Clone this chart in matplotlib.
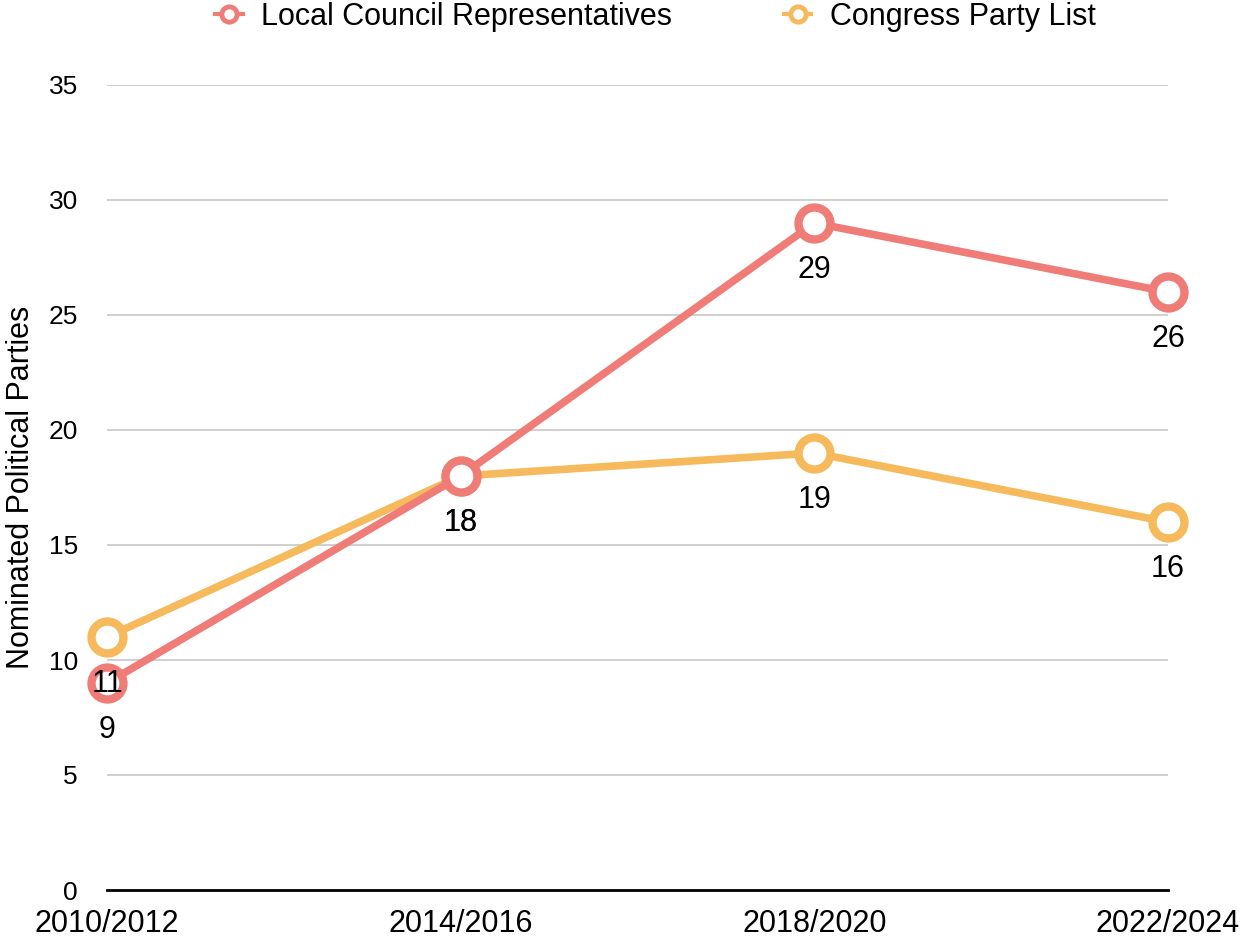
import matplotlib
matplotlib.use("Agg")
import matplotlib.pyplot as plt
from matplotlib.lines import Line2D

plt.rcParams['font.family'] = ['Liberation Sans', 'DejaVu Sans']

categories = ["2010/2012", "2014/2016", "2018/2020", "2022/2024"]
local_council = [9, 18, 29, 26]
congress_list = [11, 18, 19, 16]
series_names = ["Local Council Representatives", "Congress Party List"]
y_ticks = [0, 5, 10, 15, 20, 25, 30, 35]

red = "#F07C78"
yellow = "#F6BA5C"

fig = plt.figure(figsize=(12.45, 9.41), dpi=100)
ax = fig.add_axes([107/1245, 1 - 890/941, (1168-107)/1245, (890-85)/941])

x = list(range(len(categories)))
for vals, col, z in [(congress_list, yellow, 3), (local_council, red, 4)]:
    ax.plot(x, vals, color=col, lw=5.5, marker='o', ms=23, mew=6,
            mfc='white', mec=col, clip_on=False, zorder=z)

for vals in [local_council, congress_list]:
    for xi, v in zip(x, vals):
        ax.annotate(str(v), (xi, v), xytext=(0, -34), textcoords='offset points',
                    ha='center', va='center', fontsize=22, color='black', zorder=6,
                    annotation_clip=False)

ax.set_xlim(0, 3)
ax.set_ylim(0, 35)
ax.set_yticks(y_ticks)
ax.set_xticks(x)
ax.set_xticklabels(categories, fontsize=22)
ax.tick_params(axis='y', labelsize=19, length=0, pad=21)
ax.tick_params(axis='x', length=0, pad=14)
ax.grid(axis='y', color='#c8c8c8', lw=1.2)
ax.set_axisbelow(True)
for s in ['top', 'right', 'left']:
    ax.spines[s].set_visible(False)
ax.spines['bottom'].set_color('black')
ax.spines['bottom'].set_linewidth(2)
ax.spines['bottom'].set_zorder(2)
ax.set_ylabel("Nominated Political Parties", fontsize=22, labelpad=9)

handles = [Line2D([], [], color=c, lw=3, marker='o', ms=11, mew=3.5, mfc='white', mec=c)
           for c in [red, yellow]]
fig.legend(handles, series_names, loc='center', bbox_to_anchor=(0.5265, 1 - 17/941),
           ncol=2, frameon=False, fontsize=22, handlelength=0.9, columnspacing=3.66,
           handletextpad=0.6)

fig.savefig("out.png", dpi=100)
